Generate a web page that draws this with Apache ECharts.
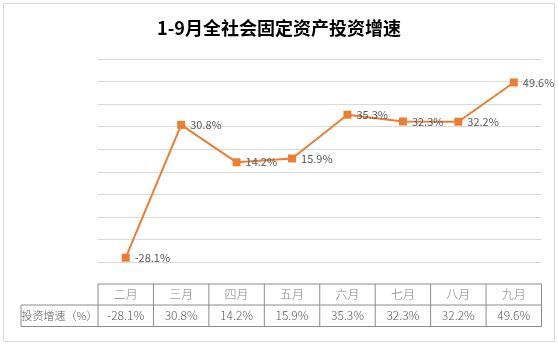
<!DOCTYPE html>
<html><head><meta charset="utf-8">
<script src="https://cdn.jsdelivr.net/npm/echarts@6/dist/echarts.min.js"></script>
<style>html,body{margin:0;padding:0;background:#fff}#c{width:558px;height:348px}</style>
</head><body><div id="c"></div>
<script>
const title = '1-9月全社会固定资产投资增速';
const categories = ['二月','三月','四月','五月','六月','七月','八月','九月'];
const values = [-28.1, 30.8, 14.2, 15.9, 35.3, 32.3, 32.2, 49.6];
const seriesName = '投资增速（%）';
const yMin = -30, yMax = 60, yInterval = 10;

const chart = echarts.init(document.getElementById('c'), null, {renderer:'canvas'});
const gridLeft = 98, gridRight = 16.5, gridTop = 59, gridBottom = 86;
chart.setOption({
  animation:false,
  title:{text:title,left:'center',top:14,textStyle:{fontFamily:'Noto Sans CJK SC',fontWeight:'bold',fontSize:18,color:'#000'}},
  grid:{left:gridLeft,right:gridRight,top:gridTop,bottom:gridBottom},
  xAxis:{type:'category',data:categories,boundaryGap:true,axisLine:{show:false},axisTick:{show:false},axisLabel:{show:false}},
  yAxis:{type:'value',min:yMin,max:yMax,interval:yInterval,axisLabel:{show:false},axisLine:{show:false},axisTick:{show:false},
    splitLine:{lineStyle:{color:'#d9d9d9',width:1}}},
  series:[{type:'line',name:seriesName,data:values,symbol:'rect',symbolSize:8,
    lineStyle:{color:'#ED7D31',width:2},itemStyle:{color:'#ED7D31'},
    label:{show:true,position:'right',distance:5,formatter:p=>p.value.toFixed(1)+'%',color:'#595959',fontSize:11,fontFamily:'Noto Sans CJK SC'}}]
});

// table beneath the plot
const W = 558;
const plotW = W - gridLeft - gridRight;
const colW = plotW / categories.length;
const rowTop = 284, rowMid = 305, rowBot = 326.5, labelLeft = 21;
const lineStyle = {stroke:'#8c8c8c',lineWidth:1};
const els = [];
const xEnd = gridLeft + plotW;
els.push({type:'line',shape:{x1:gridLeft,y1:rowTop,x2:xEnd,y2:rowTop},style:lineStyle});
els.push({type:'line',shape:{x1:labelLeft,y1:rowMid,x2:xEnd,y2:rowMid},style:lineStyle});
els.push({type:'line',shape:{x1:labelLeft,y1:rowBot,x2:xEnd,y2:rowBot},style:lineStyle});
els.push({type:'line',shape:{x1:labelLeft,y1:rowMid,x2:labelLeft,y2:rowBot},style:lineStyle});
for(let i=0;i<=categories.length;i++){
  const x = gridLeft + i*colW;
  els.push({type:'line',shape:{x1:x,y1:rowTop,x2:x,y2:rowBot},style:lineStyle});
}
categories.forEach((c,i)=>{
  const cx = chart.convertToPixel({xAxisIndex:0}, c);
  els.push({type:'text',x:cx,y:(rowTop+rowMid)/2,style:{text:c,fill:'#7f7f7f',fontSize:12,fontFamily:'Noto Sans CJK SC',fontWeight:300,align:'center',verticalAlign:'middle'}});
  els.push({type:'text',x:cx,y:(rowMid+rowBot)/2,style:{text:values[i].toFixed(1)+'%',fill:'#595959',fontSize:12,fontFamily:'Noto Sans CJK SC',fontWeight:300,align:'center',verticalAlign:'middle'}});
});
els.push({type:'text',x:(labelLeft+gridLeft)/2,y:(rowMid+rowBot)/2,style:{text:seriesName,fill:'#595959',fontSize:11,fontFamily:'Noto Sans CJK SC',fontWeight:300,align:'center',verticalAlign:'middle'}});
// outer border
els.push({type:'rect',shape:{x:3.5,y:3.5,width:551,height:338},style:{fill:'none',stroke:'#d9d9d9',lineWidth:1},z:-1});
chart.setOption({graphic:{elements:els}});
</script></body></html>
